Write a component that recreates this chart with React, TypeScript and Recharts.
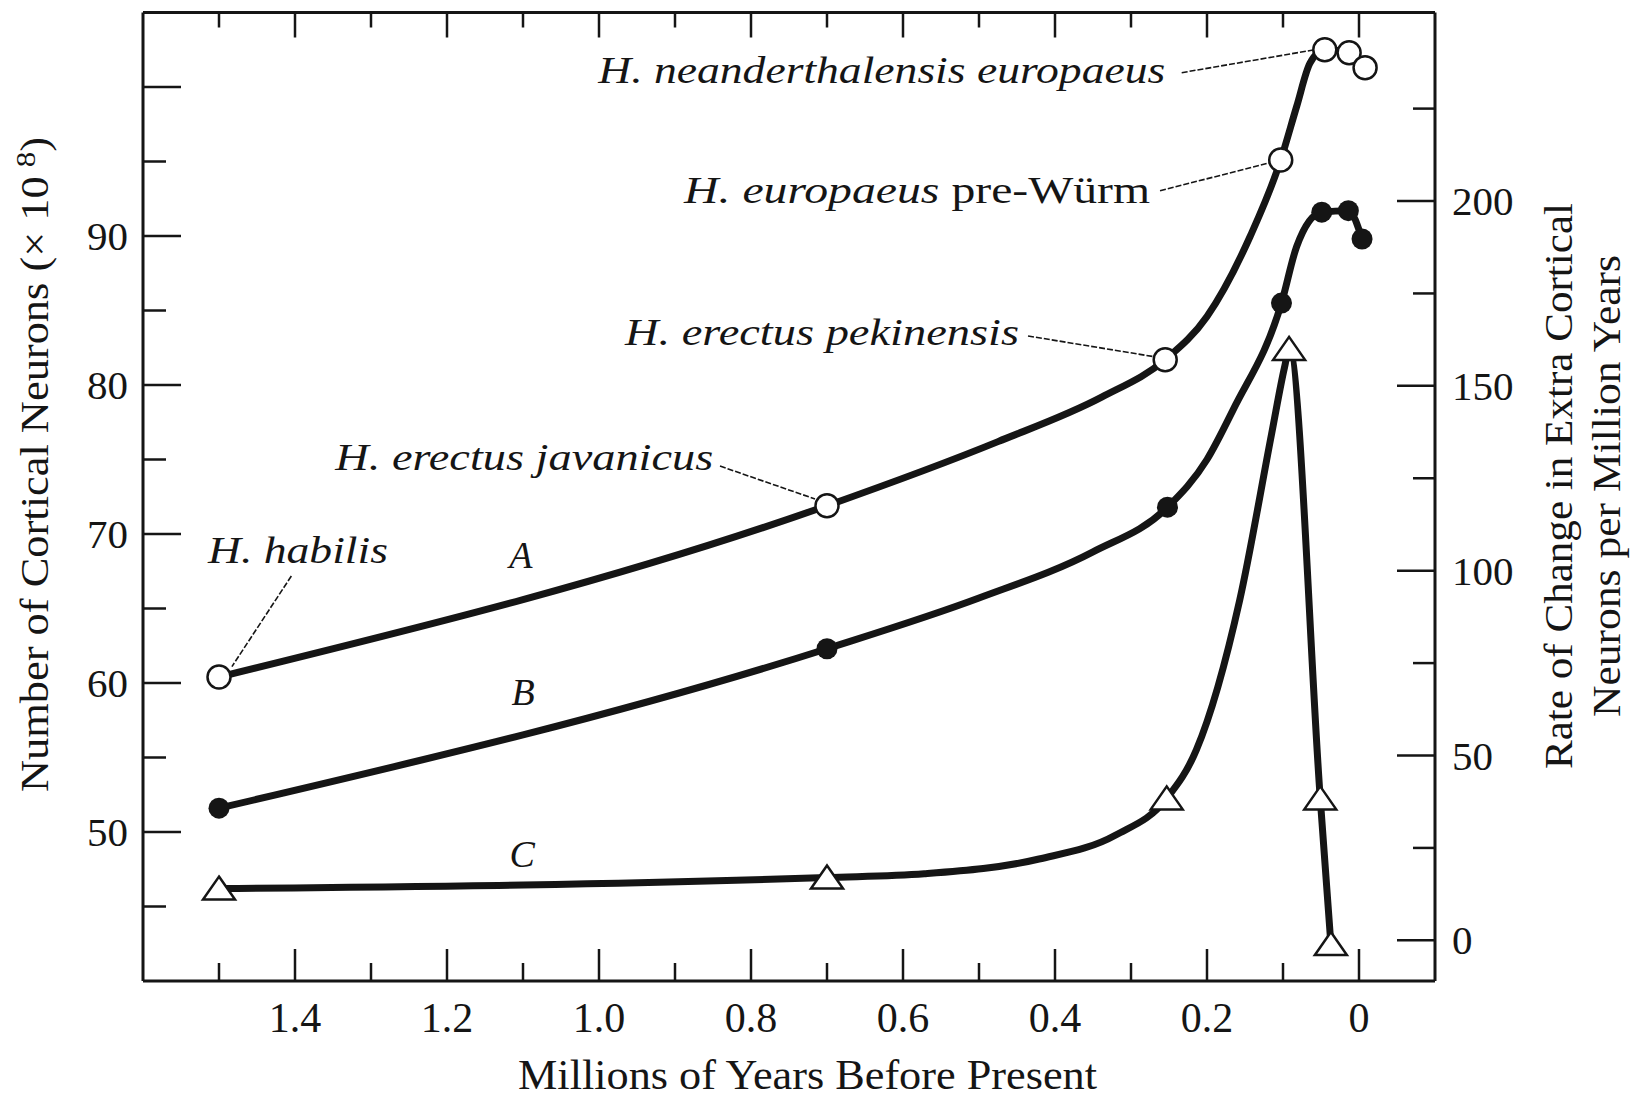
import React from 'react';
import { ComposedChart, Line, XAxis, YAxis, ReferenceLine, ReferenceDot } from 'recharts';

// curve A: open circles, number of cortical neurons (left axis)
const aYears = [1.5, 0.7, 0.255, 0.103, 0.045, 0.013, -0.008];
const aNeurons = [60.4, 71.9, 81.7, 95.1, 102.5, 102.3, 101.3];
// points
const aTraceYears = [1.5, 0.7, 0.475, 0.338, 0.255, 0.2, 0.143, 0.103, 0.082, 0.0645, 0.045, 0.013, -0.008];
const aTraceNeurons = [60.4, 71.9, 76.2, 79.2, 81.7, 84.6, 90.0, 95.1, 98.7, 101.6, 102.5, 102.3, 101.3];

// curve B: filled circles (left axis)
const bYears = [1.5, 0.7, 0.252, 0.102, 0.049, 0.014, -0.004];
const bNeurons = [51.6, 62.3, 71.8, 85.5, 91.6, 91.7, 89.8];
const bTraceYears = [1.5, 0.7, 0.5, 0.35, 0.252, 0.2, 0.165, 0.102, 0.082, 0.049, 0.014, -0.004];
const bTraceNeurons = [51.6, 62.3, 65.7, 68.8, 71.8, 75.0, 78.4, 85.5, 89.3, 91.6, 91.7, 89.8];

// curve C: triangles, rate of change (right axis)
const cYears = [1.5, 0.7, 0.253, 0.092, 0.051, 0.037];
const cRates = [14, 17, 38.4, 160, 38.4, -1];
const cTraceYears = [1.5, 0.7, 0.572, 0.421, 0.32, 0.253, 0.214, 0.157, 0.115, 0.098, 0.092, 0.051, 0.037];
const cTraceRates = [14, 17, 18.0, 22.0, 28.5, 38.4, 51.5, 92, 137, 155, 160, 38.4, -1];

const xMajorTicks = [1.4, 1.2, 1.0, 0.8, 0.6, 0.4, 0.2, 0];
const xTickLabels = ['1.4', '1.2', '1.0', '0.8', '0.6', '0.4', '0.2', '0'];
const xMinorTicks = [1.5, 1.3, 1.1, 0.9, 0.7, 0.5, 0.3, 0.1];

const leftMajorTicks = [50, 60, 70, 80, 90, 100];
const leftTickLabels = ['50', '60', '70', '80', '90', ''];
const leftMinorTicks = [45, 55, 65, 75, 85, 95];

const rightMajorTicks = [0, 50, 100, 150, 200];
const rightTickLabels = ['0', '50', '100', '150', '200'];
const rightMinorTicks = [25, 75, 125, 175, 225];

// specimen labels with their leader lines (left-axis units)
const annotations = [
  { parts: [['H. habilis', true]], x: 1.5145, y: 68.05, len: 180, from: [1.4048, 67.18], to: [1.483, 61.1] },
  { parts: [['H. erectus javanicus', true]], x: 1.347, y: 74.3, len: 378, from: [0.8408, 74.56], to: [0.7158, 72.35] },
  { parts: [['H. erectus pekinensis', true]], x: 0.9658, y: 82.68, len: 394, from: [0.4355, 83.29], to: [0.2671, 81.88] },
  { parts: [['H. europaeus', true], [' pre-Würm', false]], x: 0.888, y: 92.2, len: 466, from: [0.2618, 93.04], to: [0.1184, 94.9] },
  { parts: [['H. neanderthalensis europaeus', true]], x: 1.001, y: 100.27, len: 567, from: [0.2333, 100.96], to: [0.0605, 102.48] },
];

const curveNames = [
  { name: 'A', x: 1.1027, y: 67.72 },
  { name: 'B', x: 1.1, y: 58.52 },
  { name: 'C', x: 1.101, y: 47.65 },
];

const W = 1630;
const H = 1097;
const PLOT = { left: 143, right: 1435, top: 12.5, bottom: 981 };
const INK = '#151515';
const SERIF = '"Liberation Serif", "Times New Roman", serif';
const X_MARGIN = 22;
const L_MARGIN = 15;
const R_MARGIN = 17;

const zip = (xs: number[], ys: number[]) => xs.map((x, i) => ({ x, y: ys[i] }));
const near = (list: number[], v: number) => list.findIndex((t) => Math.abs(t - v) < 1e-6);

const XTick = (props: any) => {
  const { x, y, payload } = props;
  const i = near(xMajorTicks, payload.value);
  const axisY = y - X_MARGIN;
  return (
    <g>
      <line x1={x} x2={x} y1={axisY} y2={axisY - (i >= 0 ? 32 : 18)} stroke={INK} strokeWidth={2.5} />
      <line x1={x} x2={x} y1={PLOT.top} y2={PLOT.top + (i >= 0 ? 25 : 15)} stroke={INK} strokeWidth={2.5} />
      {i >= 0 && (
        <text x={x} y={axisY + 51} textAnchor="middle" fontFamily={SERIF} fontSize={42} fill={INK}>
          {xTickLabels[i]}
        </text>
      )}
    </g>
  );
};

const LeftTick = (props: any) => {
  const { x, y, payload } = props;
  const i = leftMajorTicks.indexOf(payload.value);
  const axisX = x + L_MARGIN;
  return (
    <g>
      <line x1={axisX} x2={axisX + (i >= 0 ? 38 : 23)} y1={y} y2={y} stroke={INK} strokeWidth={2.5} />
      {i >= 0 && leftTickLabels[i] && (
        <text x={x} y={y + 14} textAnchor="end" fontFamily={SERIF} fontSize={41} fill={INK}>
          {leftTickLabels[i]}
        </text>
      )}
    </g>
  );
};

const RightTick = (props: any) => {
  const { x, y, payload } = props;
  const i = rightMajorTicks.indexOf(payload.value);
  const axisX = x - R_MARGIN;
  return (
    <g>
      <line x1={axisX} x2={axisX - (i >= 0 ? 38 : 22)} y1={y} y2={y} stroke={INK} strokeWidth={2.5} />
      {i >= 0 && (
        <text x={x} y={y + 14} textAnchor="start" fontFamily={SERIF} fontSize={41} fill={INK}>
          {rightTickLabels[i]}
        </text>
      )}
    </g>
  );
};

const OpenDot = (p: any) => (
  <circle key={`o-${p.index}`} cx={p.cx} cy={p.cy} r={11.5} fill="#fff" stroke={INK} strokeWidth={2.5} />
);

const FilledDot = (p: any) => <circle key={`f-${p.index}`} cx={p.cx} cy={p.cy} r={10.5} fill={INK} />;

const TriangleDot = (p: any) => (
  <path
    key={`t-${p.index}`}
    d={`M${p.cx},${p.cy - 12} L${p.cx + 16},${p.cy + 11} L${p.cx - 16},${p.cy + 11} Z`}
    fill="#fff"
    stroke={INK}
    strokeWidth={2.5}
  />
);

const BottomTitle = () => (
  <text x={807.5} y={1089} textAnchor="middle" fontFamily={SERIF} fontSize={42} fill={INK} textLength={579} lengthAdjust="spacingAndGlyphs">
    Millions of Years Before Present
  </text>
);

const LeftTitle = () => (
  <text
    x={48}
    y={464.5}
    transform="rotate(-90, 48, 464.5)"
    textAnchor="middle"
    fontFamily={SERIF}
    fontSize={40}
    fill={INK}
    textLength={655}
    lengthAdjust="spacingAndGlyphs"
  >
    Number of Cortical Neurons (× 10
    <tspan dx={8} dy={-13} fontSize={28}>8</tspan>
    <tspan dy={13}>)</tspan>
  </text>
);

const RightTitle = () => (
  <g fontFamily={SERIF} fontSize={40} fill={INK}>
    <text x={1572} y={486} transform="rotate(-90, 1572, 486)" textAnchor="middle" textLength={566} lengthAdjust="spacingAndGlyphs">
      Rate of Change in Extra Cortical
    </text>
    <text x={1620} y={486} transform="rotate(-90, 1620, 486)" textAnchor="middle" textLength={462} lengthAdjust="spacingAndGlyphs">
      Neurons per Million Years
    </text>
  </g>
);

const annLabel = (parts: any[], len: number) => (p: any) => {
  const vb = p.viewBox || {};
  return (
    <text x={vb.x} y={vb.y} fontFamily={SERIF} fontSize={38} fill={INK} textLength={len} lengthAdjust="spacingAndGlyphs">
      {parts.map(([t, it]: any, k: number) => (
        <tspan key={k} fontStyle={it ? 'italic' : 'normal'}>{t}</tspan>
      ))}
    </text>
  );
};

const nameLabel = (name: string) => (p: any) => {
  const vb = p.viewBox || {};
  return (
    <text x={vb.x} y={vb.y} textAnchor="middle" fontFamily={SERIF} fontStyle="italic" fontSize={38} fill={INK}>
      {name}
    </text>
  );
};

export default function App() {
  const traceA = zip(aTraceYears, aTraceNeurons);
  const traceB = zip(bTraceYears, bTraceNeurons);
  const traceC = zip(cTraceYears, cTraceRates);
  const pointsA = zip(aYears, aNeurons);
  const pointsB = zip(bYears, bNeurons);
  const pointsC = zip(cYears, cRates);

  return (
    <div style={{ position: 'absolute', left: 0, top: 0, width: W, height: H, background: '#fff' }}>
      <ComposedChart width={W} height={H} margin={{ top: PLOT.top, right: 0, bottom: 0, left: 0 }}>
        <XAxis
          dataKey="x"
          type="number"
          domain={[-0.1, 1.6]}
          reversed
          allowDataOverflow
          ticks={[...xMinorTicks, ...xMajorTicks].sort((a, b) => b - a)}
          interval={0}
          height={H - PLOT.bottom}
          tickSize={0}
          tickMargin={X_MARGIN}
          tickLine={false}
          tick={<XTick />}
          axisLine={{ stroke: INK, strokeWidth: 3 }}
          label={BottomTitle}
        />
        <YAxis
          yAxisId="left"
          orientation="left"
          type="number"
          domain={[40, 105]}
          allowDataOverflow
          ticks={[...leftMinorTicks, ...leftMajorTicks].sort((a, b) => a - b)}
          interval={0}
          width={PLOT.left}
          tickSize={0}
          tickMargin={L_MARGIN}
          tickLine={false}
          tick={<LeftTick />}
          axisLine={{ stroke: INK, strokeWidth: 3 }}
          label={LeftTitle}
        />
        <YAxis
          yAxisId="right"
          orientation="right"
          type="number"
          domain={[-11, 251]}
          allowDataOverflow
          ticks={[...rightMinorTicks, ...rightMajorTicks].sort((a, b) => a - b)}
          interval={0}
          width={W - PLOT.right}
          tickSize={0}
          tickMargin={R_MARGIN}
          tickLine={false}
          tick={<RightTick />}
          axisLine={{ stroke: INK, strokeWidth: 3 }}
          label={RightTitle}
        />

        {/* top edge of the frame */}
        <ReferenceLine yAxisId="left" y={105} stroke={INK} strokeWidth={3} />

        {annotations.map((a, i) => (
          <ReferenceLine
            key={`lead-${i}`}
            yAxisId="left"
            segment={[{ x: a.from[0], y: a.from[1] }, { x: a.to[0], y: a.to[1] }]}
            stroke={INK}
            strokeWidth={1.6}
            strokeDasharray="6 2"
          />
        ))}

        {/* curves */}
        <Line data={traceC} dataKey="y" yAxisId="right" type="monotone" stroke={INK} strokeWidth={7} dot={false} activeDot={false} isAnimationActive={false} />
        <Line data={traceB} dataKey="y" yAxisId="left" type="monotone" stroke={INK} strokeWidth={7} dot={false} activeDot={false} isAnimationActive={false} />
        <Line data={traceA} dataKey="y" yAxisId="left" type="monotone" stroke={INK} strokeWidth={7} dot={false} activeDot={false} isAnimationActive={false} />

        {/* markers */}
        <Line data={pointsB} dataKey="y" yAxisId="left" stroke="none" dot={FilledDot} activeDot={false} isAnimationActive={false} />
        <Line data={pointsA} dataKey="y" yAxisId="left" stroke="none" dot={OpenDot} activeDot={false} isAnimationActive={false} />
        <Line data={pointsC} dataKey="y" yAxisId="right" stroke="none" dot={TriangleDot} activeDot={false} isAnimationActive={false} />

        {annotations.map((a, i) => (
          <ReferenceDot key={`ann-${i}`} yAxisId="left" x={a.x} y={a.y} r={0} fill="none" stroke="none" label={annLabel(a.parts, a.len)} />
        ))}
        {curveNames.map((c) => (
          <ReferenceDot key={c.name} yAxisId="left" x={c.x} y={c.y} r={0} fill="none" stroke="none" label={nameLabel(c.name)} />
        ))}
      </ComposedChart>
    </div>
  );
}
